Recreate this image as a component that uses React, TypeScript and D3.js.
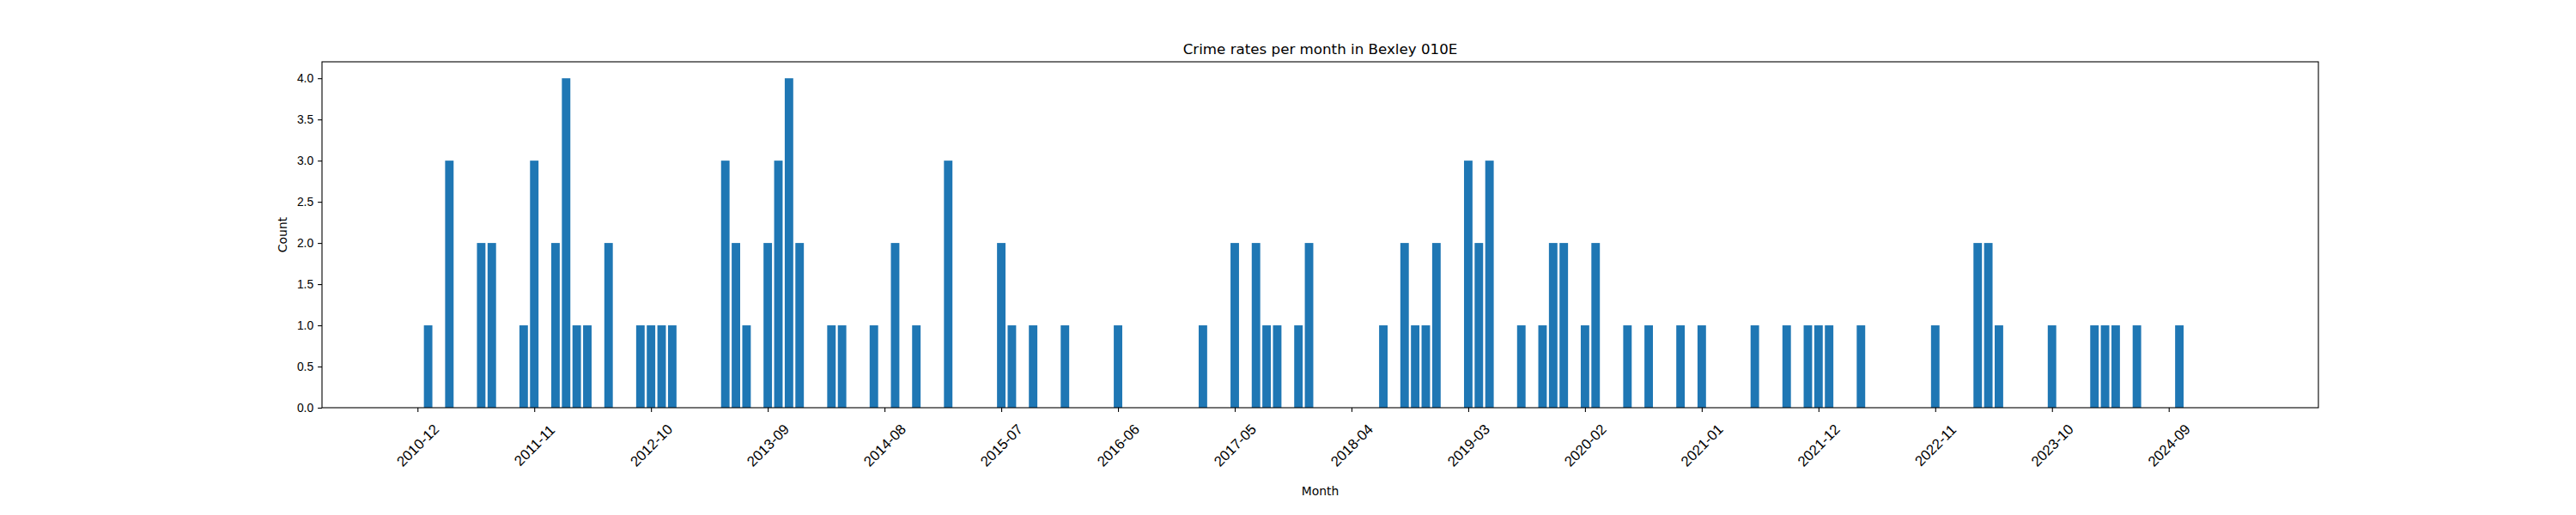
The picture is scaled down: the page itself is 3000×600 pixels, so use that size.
import { useEffect, useRef } from "react";
import { select, scaleLinear, axisBottom, axisLeft, range } from "d3";

// months with at least one recorded crime, and the count for each
const months = [
  "2011-01", "2011-03", "2011-06", "2011-07", "2011-10", "2011-11", "2012-01", "2012-02",
  "2012-03", "2012-04", "2012-06", "2012-09", "2012-10", "2012-11", "2012-12",
  "2013-05", "2013-06", "2013-07", "2013-09", "2013-10", "2013-11", "2013-12",
  "2014-03", "2014-04", "2014-07", "2014-09", "2014-11", "2015-02",
  "2015-07", "2015-08", "2015-10", "2016-01", "2016-06", "2017-02", "2017-05",
  "2017-07", "2017-08", "2017-09", "2017-11", "2017-12",
  "2018-07", "2018-09", "2018-10", "2018-11", "2018-12", "2019-03", "2019-04", "2019-05",
  "2019-08", "2019-10", "2019-11", "2019-12", "2020-02", "2020-03", "2020-06", "2020-08",
  "2020-11", "2021-01", "2021-06", "2021-09", "2021-11", "2021-12", "2022-01", "2022-04",
  "2022-11", "2023-03", "2023-04", "2023-05", "2023-10", "2024-02", "2024-03", "2024-04",
  "2024-06", "2024-10",
];
const counts = [
  1, 3, 2, 2, 1, 3, 2, 4,
  1, 1, 2, 1, 1, 1, 1,
  3, 2, 1, 2, 3, 4, 2,
  1, 1, 1, 2, 1, 3,
  2, 1, 1, 1, 1, 1, 2,
  2, 1, 1, 1, 2,
  1, 2, 1, 1, 2, 3, 2, 3,
  1, 1, 2, 2, 1, 2, 1, 1,
  1, 1, 1, 1, 1, 1, 1, 1,
  1, 2, 2, 1, 1, 1, 1, 1,
  1, 1,
];
const tickLabels = [
  "2010-12", "2011-11", "2012-10", "2013-09", "2014-08", "2015-07", "2016-06", "2017-05",
  "2018-04", "2019-03", "2020-02", "2021-01", "2021-12", "2022-11", "2023-10", "2024-09",
];
const yTicks = range(0, 4.01, 0.5);

const monthIndex = (s: string) => {
  const [y, m] = s.split("-").map(Number);
  return (y - 2010) * 12 + (m - 12);
};

const W = 3000;
const H = 600;
const left = 375;
const right = 2700;
const top = 72;
const bottom = 475;

export default function App() {
  const ref = useRef<SVGGElement>(null);
  const x = scaleLinear().domain([-9, 179.1]).range([left, right]);
  const y = scaleLinear().domain([0, 4.2]).range([bottom, top]);
  const bw = x(0.8) - x(0);

  useEffect(() => {
    if (!ref.current) return;
    const g = select(ref.current);
    g.selectAll("*").remove();
    const xa = g
      .append("g")
      .attr("transform", `translate(0,${bottom})`)
      .call(
        axisBottom(x)
          .tickValues(tickLabels.map(monthIndex))
          .tickFormat((_, i) => tickLabels[i])
          .tickSize(4.9)
          .tickSizeOuter(0)
      );
    xa.select(".domain").remove();
    xa.selectAll(".tick line").attr("stroke", "#000").attr("stroke-width", 1.1);
    xa.selectAll<SVGTextElement, number>(".tick text")
      .attr("font-size", 16.7)
      .attr("fill", "#000")
      .attr("text-anchor", "middle")
      .attr("dominant-baseline", "central")
      .attr("dy", null)
      .attr("y", 0)
      .attr("transform", "translate(0,44) rotate(-45)");

    const ya = g
      .append("g")
      .attr("transform", `translate(${left},0)`)
      .call(axisLeft(y).tickValues(yTicks).tickFormat((d) => (+d).toFixed(1)).tickSize(4.9).tickPadding(4.9));
    ya.select(".domain").remove();
    ya.selectAll(".tick line").attr("stroke", "#000").attr("stroke-width", 1.1);
    ya.selectAll(".tick text").attr("font-size", 13.9).attr("fill", "#000");
  }, []);

  return (
    <svg width={W} height={H} style={{ display: "block", margin: -8 }} fontFamily="DejaVu Sans">
      <rect width={W} height={H} fill="#fff" />
      {months.map((m, i) => (
        <rect
          key={m}
          x={x(monthIndex(m)) - bw / 2}
          y={y(counts[i])}
          width={bw}
          height={y(0) - y(counts[i])}
          fill="#1f77b4"
        />
      ))}
      <rect x={left} y={top} width={right - left} height={bottom - top} fill="none" stroke="#000" strokeWidth={1.1} />
      <g ref={ref} />
      <text x={(left + right) / 2} y={63} textAnchor="middle" fontSize={16.7}>
        Crime rates per month in Bexley 010E
      </text>
      <text x={(left + right) / 2} y={577} textAnchor="middle" fontSize={13.9}>
        Month
      </text>
      <text transform={`translate(329,${(top + bottom) / 2}) rotate(-90)`} textAnchor="middle" dominantBaseline="central" fontSize={13.9}>
        Count
      </text>
    </svg>
  );
}
